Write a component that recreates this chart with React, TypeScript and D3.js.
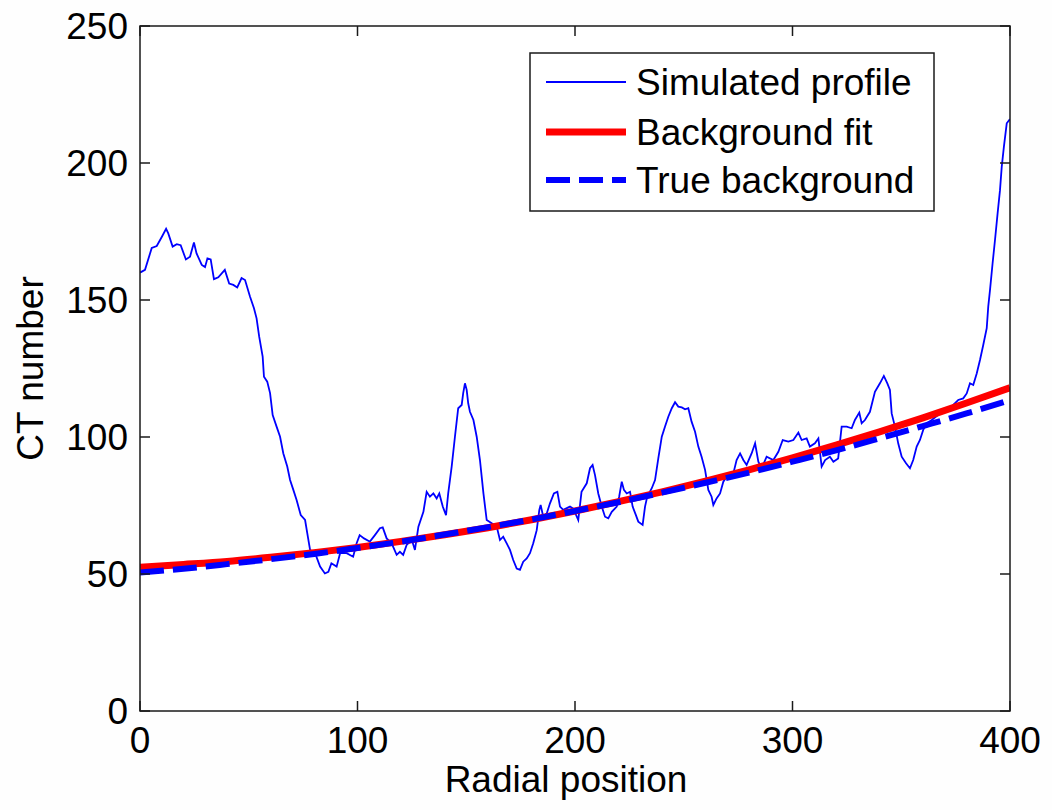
import React from "react";
import * as d3 from "d3";

// Simulated profile
const profileX = [0,2.3,5.4,7.7,10,12,13,15,16.9,18.7,21.1,23,24.8,26,28.4,29.9,31,32.5,34,36,39,41,42.9,44.7,46.7,48.3,50.6,52.4,53.6,54.8,56.4,57,58.5,59.8,61,62.8,64.4,65.9,67.7,69,70.5,72,73.9,75.9,76.9,78.2,80.5,82.8,85,86.6,88,90.4,92,95,98,99.6,101,103,105.7,108,110.3,111.6,113.4,115.7,118,119.5,121,122.6,125,126.4,128,130.3,131.8,133.3,134.9,136.4,137.6,139.2,140.7,141.7,143.3,144.8,146.3,147.9,148.6,149.4,150.2,150.9,151.7,153.3,154.8,156.3,157.9,159.4,161.7,164,165.5,167,168.6,170.1,171.6,173.2,174.7,176.2,177.8,179.3,180.8,182.4,183.6,184.2,185.4,187,188.5,190.3,191.9,193.1,194.6,197.7,199.2,201.5,203,205.4,206.9,208.1,209.2,210.7,212.3,213.8,215.3,216.9,219.2,220.3,221.5,222.5,223.8,225.3,226.5,228,229.1,231.1,232.2,233.2,235.3,236.8,238.3,239.9,241.4,242.9,244.5,246,247.5,249.1,250.6,252.1,253.6,255.2,256.7,258.2,259.8,261.3,262.8,263.6,265.1,266.7,268.2,269.7,272.8,274.3,275.9,277.4,278.9,281.2,282.8,284.3,285.8,288.1,291.2,293.5,295.5,298.1,300.4,302.7,304.2,306.5,308,310.3,311.9,313.4,315,317.2,318.8,321,322.6,324.9,327.2,328.7,330.7,331.8,333.3,335.6,337.9,340.2,342,343.6,344.8,345.6,347.1,348.6,350.2,352.2,354,355.5,357.1,358.6,360.1,361.7,364,367.8,370.9,373.9,376.2,378.5,380.1,381.6,383.1,384.7,386.2,387.7,389.3,390,390.8,392,393.1,394.3,395.4,396.2,397.2,398.5,400];
const profileY = [160,161,169,169.7,173,176,174.3,169.5,170.4,170,164.8,165.8,171,167,162.8,162,165.2,164.8,157.6,158.3,161,156,155.5,154.6,158,157.3,151.2,147,143.3,136.6,129.3,122,120.2,116,108,103.8,100.1,94,89.2,84.3,80.7,77,71.5,69.7,64.9,58.8,57.6,52.7,50.2,50.8,53.9,52.7,57.6,57.6,56.3,61.2,64.2,63,61.8,64.2,66.7,67,63,61.2,57,58.1,57,60.6,62.4,58.8,67.3,72.7,80,78.2,79.4,77.6,79.4,74.6,71.5,79.4,89.2,100.1,110.5,111.7,116,119.6,117.2,112.3,109.2,106.2,100.1,91.6,79.4,69.7,68.5,67.3,62.4,63.6,61.2,58.8,55.1,52,51.5,54.5,55.7,57.6,61.2,66,73.4,75.2,70.9,72.1,75.8,79.4,80,74.6,73.4,74.6,73.9,69.7,80,83.1,88.6,89.8,86.1,79.4,74.6,70.9,70.3,72.7,74.6,78.2,83.7,80.7,79.4,80,74.6,71.5,69.1,67.9,74.6,78.2,81.3,84.3,92.2,100.1,103.8,107.4,110.5,112.7,111.1,110.8,110.1,110.5,105.6,101.9,96.5,92.8,88,80.7,78.2,75.2,77.6,79.4,83.7,85.5,86.7,91.6,94,91.6,89.8,94,97.7,91,88.5,92.8,91.6,94.6,98.9,98.3,98.9,101.6,98.9,99.5,96.5,97.7,99.5,89.2,91.6,92.8,91,92.2,103.8,103.8,103.2,106.2,108.9,105,106.2,109.2,116.5,119.6,122.3,119.6,117.2,108.6,103.8,97.7,92.8,90.4,88.6,91.6,96.5,98.9,102.6,105,106.2,108.6,109.9,111.7,113.5,114.1,115.9,119.6,119,123.2,128.1,133.6,139.7,147.6,153.6,163.4,171.9,181.6,190.1,198.6,206,214.5,216];

// Background curves (read every 20 units)
const bgX = [0,20,40,60,80,100,120,140,160,180,200,220,240,260,280,300,320,340,360,380,400];
const fitY = [52.5,53.5,54.6,56.1,57.8,59.7,61.9,64.3,66.9,69.8,73,76.4,80,83.9,88,92.4,97,101.9,107,112.4,118];
const trueY = [50.5,51.9,53.6,55.4,57.3,59.5,61.8,64.4,67.1,69.9,73,76.2,79.7,83.3,87,91,95.1,99.5,104,108.6,113.5];

const xTicks = [0,100,200,300,400];
const yTicks = [0,50,100,150,200,250];
const legendLabels = ["Simulated profile","Background fit","True background"];

const FONT = "'Liberation Sans', Arial, Helvetica, sans-serif";

export default function App() {
  const left = 140, right = 1010, top = 26, bottom = 711;
  const x = d3.scaleLinear().domain([0, 400]).range([left, right]);
  const y = d3.scaleLinear().domain([0, 250]).range([bottom, top]);
  const line = d3.line<[number, number]>().x(d => x(d[0])).y(d => y(d[1]));
  const smooth = d3.line<[number, number]>().x(d => x(d[0])).y(d => y(d[1])).curve(d3.curveMonotoneX);

  const profile = profileX.map((v, i) => [v, profileY[i]] as [number, number]);
  const fit = bgX.map((v, i) => [v, fitY[i]] as [number, number]);
  const tru = bgX.map((v, i) => [v, trueY[i]] as [number, number]);

  const tick = 10;
  const axisColor = "#1a1a1a";
  const fs = 37;

  const legX = 530, legY = 53, legW = 404, legH = 158;
  const rows = [82, 132, 180];

  return (
    <svg width={1052} height={810} style={{ position: "absolute", left: 0, top: 0, background: "#fff" }}>
      <rect x={0} y={0} width={1052} height={810} fill="#fefefe" />
      <defs>
        <clipPath id="plotclip">
          <rect x={left} y={top} width={right - left} height={bottom - top} />
        </clipPath>
      </defs>
      <rect x={left} y={top} width={right - left} height={bottom - top} fill="#fff" />
      <g clipPath="url(#plotclip)">
        <path d={line(profile) || ""} fill="none" stroke="#0000ff" strokeWidth={1.8} strokeLinejoin="miter" />
        <path d={smooth(fit) || ""} fill="none" stroke="#ff0000" strokeWidth={7} />
        <path d={smooth(tru) || ""} fill="none" stroke="#0000ff" strokeWidth={6} strokeDasharray="24 9" />
      </g>
      {/* frame */}
      <rect x={left} y={top} width={right - left} height={bottom - top} fill="none" stroke={axisColor} strokeWidth={1.5} />
      {xTicks.map(t => (
        <g key={"x" + t}>
          <line x1={x(t)} x2={x(t)} y1={bottom} y2={bottom - tick} stroke={axisColor} strokeWidth={1.5} />
          <line x1={x(t)} x2={x(t)} y1={top} y2={top + tick} stroke={axisColor} strokeWidth={1.5} />
          <text x={x(t)} y={753} textAnchor="middle" fontFamily={FONT} fontSize={fs} fill="#000">{t}</text>
        </g>
      ))}
      {yTicks.map(t => (
        <g key={"y" + t}>
          <line x1={left} x2={left + tick} y1={y(t)} y2={y(t)} stroke={axisColor} strokeWidth={1.5} />
          <line x1={right} x2={right - tick} y1={y(t)} y2={y(t)} stroke={axisColor} strokeWidth={1.5} />
          <text x={128} y={y(t) + 13} textAnchor="end" fontFamily={FONT} fontSize={fs} fill="#000">{t}</text>
        </g>
      ))}
      <text x={566} y={792} textAnchor="middle" fontFamily={FONT} fontSize={fs} fill="#000">Radial position</text>
      <text transform={`translate(43, ${(top + bottom) / 2}) rotate(-90)`} textAnchor="middle" fontFamily={FONT} fontSize={fs} fill="#000">CT number</text>
      {/* legend */}
      <rect x={legX} y={legY} width={legW} height={legH} fill="#fff" stroke={axisColor} strokeWidth={1.5} />
      <line x1={546} x2={626} y1={rows[0]} y2={rows[0]} stroke="#0000ff" strokeWidth={1.8} />
      <line x1={546} x2={626} y1={rows[1]} y2={rows[1]} stroke="#ff0000" strokeWidth={7} />
      <line x1={546} x2={626} y1={rows[2]} y2={rows[2]} stroke="#0000ff" strokeWidth={6} strokeDasharray="24 9" />
      {legendLabels.map((l, i) => (
        <text key={l} x={636} y={rows[i] + 13} fontFamily={FONT} fontSize={fs} fill="#000">{l}</text>
      ))}
    </svg>
  );
}
